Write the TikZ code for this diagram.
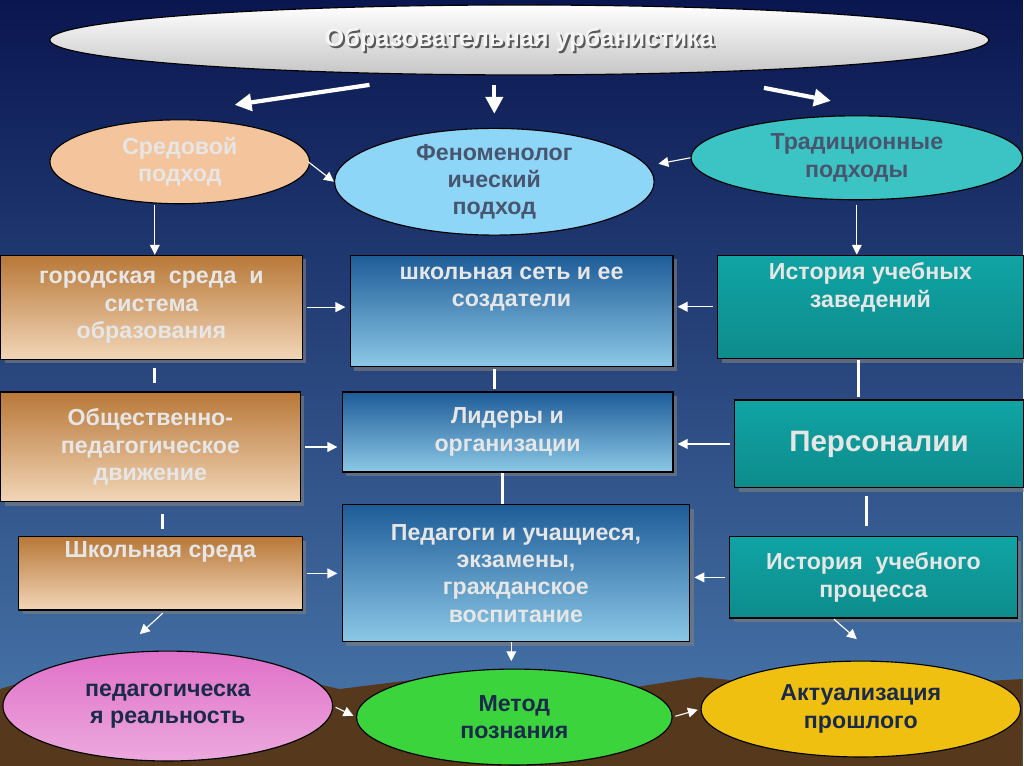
\documentclass[tikz,border=0pt]{standalone}
\usepackage{fontspec}
\setmainfont{Liberation Sans}
\usetikzlibrary{positioning,arrows.meta,shapes.geometric,shadows}

\definecolor{navytop}{HTML}{0A1650}
\definecolor{navybot}{HTML}{4A7AAE}
\definecolor{txtlight}{HTML}{E6E6E6}
\definecolor{txtdark}{HTML}{1A2A4A}
\definecolor{peach}{HTML}{F4C49C}
\definecolor{brownd}{HTML}{B87838}
\definecolor{brownl}{HTML}{F2D6B8}
\definecolor{blued}{HTML}{1E5C98}
\definecolor{bluel}{HTML}{8CC8E6}
\definecolor{teal}{HTML}{10A4A4}
\definecolor{skyell}{HTML}{8ED6F8}
\definecolor{tealell}{HTML}{3CC4C4}
\definecolor{pinkell}{HTML}{E070C8}
\definecolor{greenell}{HTML}{3CD43C}
\definecolor{goldell}{HTML}{F0C010}

\begin{document}
\begin{tikzpicture}[x=0.025cm,y=-0.025cm,
    every node/.style={font=\bfseries},
    oval/.style={shape=ellipse,draw=black,thick,inner sep=0pt,align=center,font=\bfseries\fontsize{16.5}{19.5}\selectfont},
    brownbox/.style={draw=black,thick,align=center,anchor=north west,inner sep=0pt,
      top color=brownd,bottom color=brownl,text=txtlight,drop shadow={opacity=0.6,shadow xshift=3pt,shadow yshift=-3pt},
      font=\bfseries\fontsize{16.5}{19.5}\selectfont},
    bluebox/.style={brownbox,top color=blued,bottom color=bluel},
    tealbox/.style={brownbox,top color=teal,bottom color=teal!85!black},
    arr/.style={-{Triangle[length=7pt,width=7pt]},white,thick},
    bigarr/.style={-{Triangle[length=12pt,width=12pt]},white,line width=3pt},
    tick/.style={white,line width=2pt}
    ]
    % background
    \fill[top color=navytop,bottom color=navybot] (0,0) rectangle (1024,767);
    \fill[brown!45!black] (0,767) -- (0,690) -- (60,672) -- (120,690) -- (260,672) -- (340,690)
      -- (420,680) -- (560,700) -- (700,678) -- (830,690) -- (1024,680) -- (1024,767) -- cycle;

    % top ellipse
    \node(title) [oval,minimum width=23.5cm,minimum height=1.75cm,
      top color=white,bottom color=gray!45] at (520,40) {};
    \node(title_sh) [gray!70!black,font=\bfseries\fontsize{18}{21}\selectfont] at (522,42) {Образовательная урбанистика};
    \node(title_txt) [white!92!gray,font=\bfseries\fontsize{18}{21}\selectfont] at (520,40) {Образовательная урбанистика};

    \node(sred) [oval,minimum width=6.5cm,minimum height=2.1cm,fill=peach,text=txtlight] at (180,162) {Средовой\\подход};
    \node(phen) [oval,minimum width=8cm,minimum height=2.4cm,fill=skyell,text=txtdark!80!white] at (495,182) {Феноменолог\\ический\\подход};
    \node(trad) [oval,minimum width=8.3cm,minimum height=2.1cm,fill=tealell,text=txtdark!80!white] at (858,158) {Традиционные\\подходы};

    \draw[bigarr] (370,85) -- (235,105);
    \draw[bigarr] (495,85) -- (495,114);
    \draw[bigarr] (765,88) -- (832,101);
    \draw[arr] (sred.east) ++(-2,0) -- (phen.west);
    \draw[arr] (trad.west) -- ++(-32,6);

    % row 1
    \node(gor) [brownbox,minimum width=7.55cm,minimum height=2.6cm] at (0,255) {городская\ \ среда\ \ и\\система\\образования};
    \node(set) [bluebox,minimum width=8.08cm,minimum height=2.78cm] at (350,255) {школьная сеть и ее\\создатели\\[5mm]};
    \node(ist) [tealbox,minimum width=7.65cm,minimum height=2.58cm] at (718,255) {История учебных\\заведений\\[4mm]};
    % row 2
    \node(obsh) [brownbox,minimum width=7.5cm,minimum height=2.75cm] at (0,392) {Общественно-\\педагогическое\\движение};
    \node(lid) [bluebox,minimum width=8.28cm,minimum height=2cm] at (342,392) {Лидеры и\\организации};
    \node(pers) [tealbox,minimum width=7.23cm,minimum height=2.2cm,font=\bfseries\fontsize{21}{25}\selectfont] at (735,400) {Персоналии};
    % row 3
    \node(shk) [brownbox,minimum width=7.1cm,minimum height=1.83cm] at (18,537) {Школьная среда\\[5mm]};
    \node(ped) [bluebox,minimum width=8.7cm,minimum height=3.43cm] at (342,505) {Педагоги и учащиеся,\\экзамены,\\гражданское\\воспитание};
    \node(proc) [tealbox,minimum width=7.2cm,minimum height=2.03cm] at (730,537) {История\ \ учебного\\процесса};

    % bottom ellipses
    \node(real) [oval,minimum width=8.25cm,minimum height=2.75cm,top color=pinkell,bottom color=pinkell!60!white,text=txtdark] at (168,707) {педагогическа\\я реальность};
    \node(met) [oval,minimum width=7.9cm,minimum height=2.4cm,fill=greenell,text=txtdark] at (515,718) {Метод\\познания};
    \node(akt) [oval,minimum width=8cm,minimum height=2.4cm,fill=goldell,text=txtdark] at (862,710) {Актуализация\\прошлого};

    % connectors
    \draw[arr] (155,205) -- (gor.north -| 155,0);
    \draw[arr] (858,205) -- (ist.north -| 858,0);
    \draw[arr,shorten <=3pt,shorten >=3pt] (gor.east) -- (set.west |- gor.east);
    \draw[arr,shorten <=3pt,shorten >=3pt] (ist.west) -- (set.east |- ist.west);
    \draw[arr,shorten <=3pt,shorten >=3pt] (obsh.east) -- (lid.west |- obsh.east);
    \draw[arr,shorten <=3pt,shorten >=3pt] (pers.west) -- (lid.east |- pers.west);
    \draw[arr,shorten <=3pt,shorten >=3pt] (shk.east) -- (ped.west |- shk.east);
    \draw[arr,shorten <=3pt,shorten >=3pt] (proc.west) -- (ped.east |- proc.west);
    \draw[tick] (155,368) -- (155,384);
    \draw[tick] (495,370) -- (495,390);
    \draw[tick] (860,360) -- (860,398);
    \draw[tick] (163,515) -- (163,530);
    \draw[tick] (503,474) -- (503,505);
    \draw[tick] (868,497) -- (868,527);
    \draw[arr] (163,614) -- (140,635);
    \draw[arr] (ped.south -| 512,0) -- (512,662);
    \draw[arr] (835,620) -- (858,640);
    \draw[arr,shorten <=2pt,shorten >=2pt] (real.east) -- (met.west);
    \draw[arr,shorten <=2pt,shorten >=2pt] (met.east) -- (akt.west);
\end{tikzpicture}
\end{document}
